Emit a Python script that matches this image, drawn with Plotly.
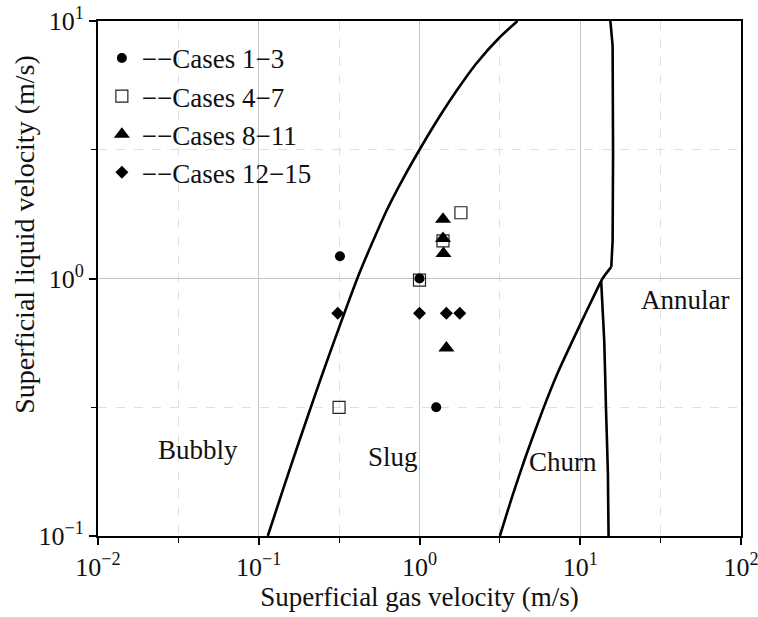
import numpy as np
import plotly.graph_objects as go

# ---- data ----
cases_1_3_ug = [0.32, 1.0, 1.27]
cases_1_3_ul = [1.22, 1.0, 0.316]

cases_4_7_ug = [1.81, 1.40, 1.0, 0.316]
cases_4_7_ul = [1.80, 1.40, 0.985, 0.316]

cases_8_11_ug = [1.40, 1.40, 1.41, 1.47]
cases_8_11_ul = [1.70, 1.43, 1.25, 0.537]

cases_12_15_ug = [0.31, 1.0, 1.47, 1.78]
cases_12_15_ul = [0.733, 0.733, 0.733, 0.733]

bubbly_slug_ug = [0.1138, 0.1413, 0.1778, 0.2239, 0.2818, 0.3548, 0.4236, 0.5012,
                  0.6310, 0.7943, 1.0, 1.330, 1.687, 2.244, 3.133, 4.074]
bubbly_slug_ul = [0.1, 0.1510, 0.2317, 0.3524, 0.5297, 0.7852, 1.052, 1.349,
                  1.862, 2.455, 3.162, 4.246, 5.321, 6.808, 8.610, 10.0]

churn_ug = [3.162, 3.802, 4.571, 5.834, 7.244, 10.0, 11.75, 13.77, 15.6]
churn_ul = [0.1, 0.1445, 0.2032, 0.3076, 0.4305, 0.6637, 0.8185, 1.0, 1.109]

annular_upper_ug = [15.6, 15.9, 16.0, 15.9, 15.4]
annular_upper_ul = [1.109, 1.4, 3.0, 8.0, 10.0]

annular_lower_ug = [13.5, 14.1, 14.45, 14.86, 15.0]
annular_lower_ul = [0.973, 0.573, 0.316, 0.175, 0.1]

region_labels = ["Bubbly", "Slug", "Churn", "Annular"]
region_ug = [0.0419, 0.684, 7.82, 45.0]
region_ul = [0.216, 0.203, 0.194, 0.824]

x_tickvals = [0.01, 0.1, 1, 10, 100]
x_ticktext = ["10<sup>\u22122</sup>", "10<sup>\u22121</sup>", "10<sup>0</sup>", "10<sup>1</sup>", "10<sup>2</sup>"]
y_tickvals = [0.1, 1, 10]
y_ticktext = ["10<sup>\u22121</sup>", "10<sup>0</sup>", "10<sup>1</sup>"]

FONT = "Liberation Serif"
FS = 27

fig = go.Figure()

line_style = dict(color="black", width=2.6)
fig.add_trace(go.Scatter(x=bubbly_slug_ug, y=bubbly_slug_ul, mode="lines",
                         line=dict(shape="spline", smoothing=0.8, **line_style),
                         showlegend=False, hoverinfo="skip"))
fig.add_trace(go.Scatter(x=churn_ug, y=churn_ul, mode="lines",
                         line=dict(shape="spline", smoothing=0.6, **line_style),
                         showlegend=False, hoverinfo="skip"))
fig.add_trace(go.Scatter(x=annular_upper_ug, y=annular_upper_ul, mode="lines",
                         line=dict(shape="linear", **line_style),
                         showlegend=False, hoverinfo="skip"))
fig.add_trace(go.Scatter(x=annular_lower_ug, y=annular_lower_ul, mode="lines",
                         line=dict(shape="spline", smoothing=0.5, **line_style),
                         showlegend=False, hoverinfo="skip"))

# points (draw order: squares, circles, triangles, diamonds)
fig.add_trace(go.Scatter(x=cases_4_7_ug, y=cases_4_7_ul, mode="markers",
                         name="\u2212\u2212Cases 4\u22127", legendrank=2,
                         marker=dict(symbol="square-open", size=12, color="#222",
                                     line=dict(width=1.2, color="#222"))))
fig.add_trace(go.Scatter(x=cases_1_3_ug, y=cases_1_3_ul, mode="markers",
                         name="\u2212\u2212Cases 1\u22123", legendrank=1,
                         marker=dict(symbol="circle", size=10, color="black")))
fig.add_trace(go.Scatter(x=cases_8_11_ug, y=cases_8_11_ul, mode="markers",
                         name="\u2212\u2212Cases 8\u221211", legendrank=3,
                         marker=dict(symbol="triangle-up", size=14, color="black")))
fig.add_trace(go.Scatter(x=cases_12_15_ug, y=cases_12_15_ul, mode="markers",
                         name="\u2212\u2212Cases 12\u221215", legendrank=4,
                         marker=dict(symbol="diamond", size=10, color="black")))

for lab, ux, uy in zip(region_labels, region_ug, region_ul):
    fig.add_annotation(x=np.log10(ux), y=np.log10(uy), text=lab, showarrow=False,
                       xref="x", yref="y", font=dict(family=FONT, size=FS, color="#111"))

# y-axis title (placed slightly above the axis centre, as in the reference)
fig.add_annotation(x=-0.1135, y=0.585, xref="paper", yref="paper",
                   text="Superficial liquid velocity (m/s)", textangle=-90,
                   showarrow=False, xanchor="center", yanchor="middle",
                   font=dict(family=FONT, size=28, color="#111"))

axis_common = dict(
    type="log", showline=True, linewidth=2, linecolor="black", mirror=True,
    ticks="outside", ticklen=7, tickwidth=1.5, tickcolor="black",
    showgrid=True, gridcolor="#c4c4c4", gridwidth=1,
    tickfont=dict(family=FONT, size=26, color="#111"),
    zeroline=False, ticklabeloverflow="allow",
)

fig.update_xaxes(
    range=[-2, 2], tickmode="array", tickvals=x_tickvals, ticktext=x_ticktext,
    minor=dict(tickmode="array", tickvals=[10**-1.5, 10**-0.5, 10**0.5, 10**1.5],
               ticklen=5, tickwidth=1.2, tickcolor="black", ticks="outside",
               showgrid=True, gridcolor="#e0e0e0", griddash="dash", gridwidth=1),
    title=dict(text="Superficial gas velocity (m/s)", font=dict(family=FONT, size=FS, color="#111"),
               standoff=5),
    **axis_common,
)
fig.update_yaxes(
    range=[-1, 1], tickmode="array", tickvals=y_tickvals, ticktext=y_ticktext,
    minor=dict(tickmode="array", tickvals=[10**-0.5, 10**0.5],
               ticklen=5, tickwidth=1.2, tickcolor="black", ticks="outside",
               showgrid=True, gridcolor="#e0e0e0", griddash="dash", gridwidth=1),
    **axis_common,
)

fig.update_layout(
    width=758, height=617,
    margin=dict(l=98, r=17, t=21, b=81, autoexpand=False),
    paper_bgcolor="white", plot_bgcolor="white",
    legend=dict(x=0.006, y=0.975, xanchor="left", yanchor="top",
                bgcolor="rgba(0,0,0,0)", borderwidth=0,
                font=dict(family=FONT, size=FS, color="#111"),
                itemwidth=30, tracegroupgap=0),
    showlegend=True,
)

fig.write_html("out.html")
